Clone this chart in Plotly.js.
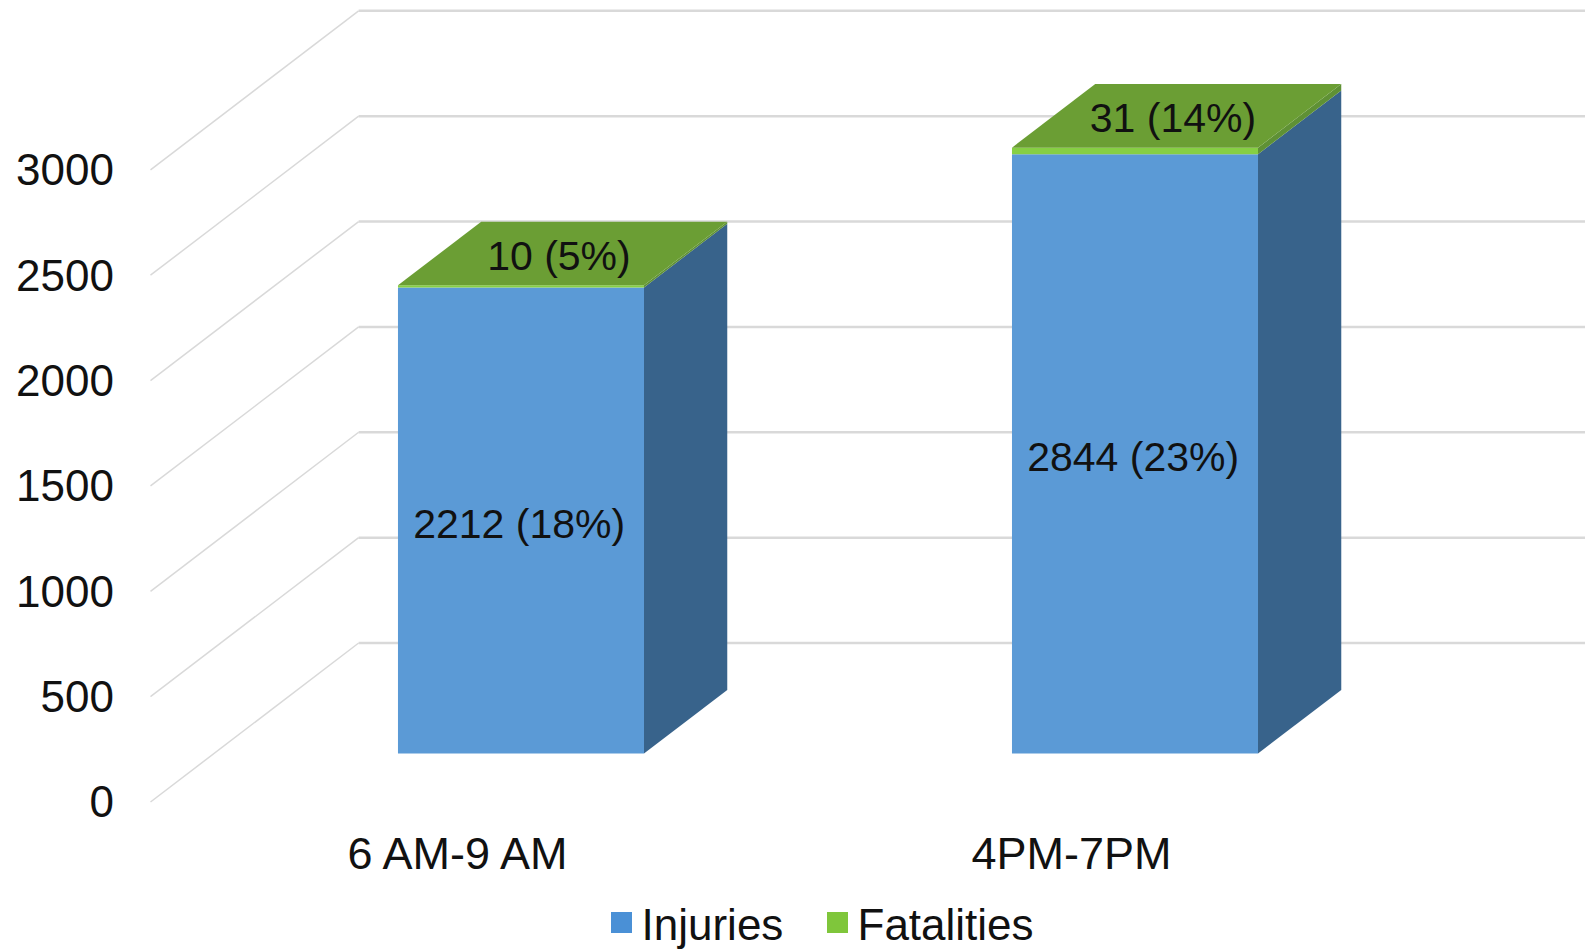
<!DOCTYPE html>
<html>
<head>
<meta charset="utf-8">
<script src="https://cdn.plot.ly/plotly-3.0.1.min.js"></script>
<style>html,body{margin:0;padding:0;background:#fff}#chart{width:1585px;height:951px}</style>
</head>
<body>
<div id="chart"></div>
<script>
const categories = ['6 AM-9 AM', '4PM-7PM'];
const injuries = [2212, 2844];
const fatalities = [10, 31];
const injuriesPct = [18, 23];
const fatalitiesPct = [5, 14];
const yTicks = [0, 500, 1000, 1500, 2000, 2500, 3000];

// oblique projection of the chart's depth axis
const DX = 0.339, DY = 754.6;
const D0 = 0.305, D1 = 0.705;
const WALL_X = -0.5, BAR_W = 0.4007;
const XR = [-0.5513, 1.8363], YR = [-61.7, 3806];
const C = {inj:'#5b9ad6', injSide:'#38638b', fat:'#86cf44', fatTop:'#6b9e34', fatSide:'#5f9135', grid:'#d9d9d9', text:'#111111', legInj:'#4a90d6', legFat:'#7fc63b'};
const FONT = 'Liberation Sans, Arial, sans-serif';

const idx = categories.map((_, i) => i);
const left = i => i + D0 * DX - BAR_W / 2;
const right = i => i + D0 * DX + BAR_W / 2;
const off0 = D0 * DY, off1 = D1 * DY;
const depthX = DX * (D1 - D0);

function poly(xs, ys, color) {
  return {type:'scatter', mode:'lines', x:xs, y:ys, fill:'toself', fillcolor:color,
          line:{width:0, color:color}, hoverinfo:'skip', showlegend:false};
}

const traces = [];
traces.push({type:'bar', x:idx.map(i => i + D0 * DX), y:injuries, base:idx.map(() => off0), width:BAR_W,
  marker:{color:C.inj, line:{width:0}}, showlegend:false, hoverinfo:'skip'});
traces.push({type:'bar', x:idx.map(i => i + D0 * DX), y:fatalities, base:injuries.map(v => off0 + v), width:BAR_W,
  marker:{color:C.fat, line:{width:0}}, showlegend:false, hoverinfo:'skip'});

idx.forEach(i => {
  const r = right(i), l = left(i), a = injuries[i], t = a + fatalities[i];
  traces.push(poly([r, r + depthX, r + depthX, r, r], [off0, off1, off1 + a, off0 + a, off0], C.injSide));
  traces.push(poly([r, r + depthX, r + depthX, r, r], [off0 + a, off1 + a, off1 + t, off0 + t, off0 + a], C.fatSide));
  traces.push(poly([l, r, r + depthX, l + depthX, l], [off0 + t, off0 + t, off1 + t, off1 + t, off0 + t], C.fatTop));
});

traces.push({type:'scatter', mode:'text', x:idx.map(i => i + D0 * DX - 0.003), y:injuries.map(v => off0 + v / 2 - 33),
  text:injuries.map((v, i) => v + ' (' + injuriesPct[i] + '%)'), textposition:'middle center',
  textfont:{family:FONT, size:41, color:C.text}, showlegend:false, hoverinfo:'skip'});
traces.push({type:'scatter', mode:'text', x:idx.map(i => i + (D0 + D1) / 2 * DX - 0.006),
  y:idx.map(i => (off0 + off1) / 2 + injuries[i] + fatalities[i] - 30),
  text:fatalities.map((v, i) => v + ' (' + fatalitiesPct[i] + '%)'), textposition:'middle center',
  textfont:{family:FONT, size:41, color:C.text}, showlegend:false, hoverinfo:'skip'});

traces.push({type:'scatter', mode:'markers', name:'Injuries', x:[null], y:[null],
  marker:{symbol:'square', size:16, color:C.legInj, line:{width:5, color:C.legInj}}, hoverinfo:'skip'});
traces.push({type:'scatter', mode:'markers', name:'Fatalities', x:[null], y:[null],
  marker:{symbol:'square', size:16, color:C.legFat, line:{width:5, color:C.legFat}}, hoverinfo:'skip'});

const shapes = [];
yTicks.forEach(v => {
  shapes.push({type:'line', layer:'below', xref:'x', yref:'y', x0:WALL_X, y0:v, x1:WALL_X + DX, y1:v + DY,
    line:{color:C.grid, width:1.5}});
  shapes.push({type:'line', layer:'below', xref:'x', yref:'y', x0:WALL_X + DX, y0:v + DY, x1:XR[1], y1:v + DY,
    line:{color:C.grid, width:2.5}});
});

const layout = {
  width:1585, height:951, paper_bgcolor:'#fff', plot_bgcolor:'#fff',
  margin:{l:119, r:0, t:0, b:136, pad:0},
  barmode:'overlay', hovermode:false, shapes:shapes,
  font:{family:FONT, size:44, color:C.text},
  xaxis:{type:'linear', range:XR, tickmode:'array', tickvals:idx, ticktext:categories, showgrid:false, zeroline:false, showline:false, ticks:'', ticklabelstandoff:8, tickfont:{size:45, color:C.text, family:FONT}},
  yaxis:{type:'linear', range:YR, tickmode:'array', tickvals:yTicks, ticktext:yTicks.map(String), showgrid:false, zeroline:false, showline:false, ticks:'', ticklabelstandoff:4, tickfont:{size:44, color:C.text, family:FONT}},
  legend:{orientation:'h', xref:'container', yref:'container', x:0.3795, xanchor:'left', y:0.0295, yanchor:'middle', entrywidth:171, entrywidthmode:'pixels', font:{size:44, color:C.text, family:FONT}, bgcolor:'rgba(0,0,0,0)', itemclick:false, itemdoubleclick:false}
};
Plotly.newPlot('chart', traces, layout, {displayModeBar:false, staticPlot:true});
</script>
</body>
</html>
